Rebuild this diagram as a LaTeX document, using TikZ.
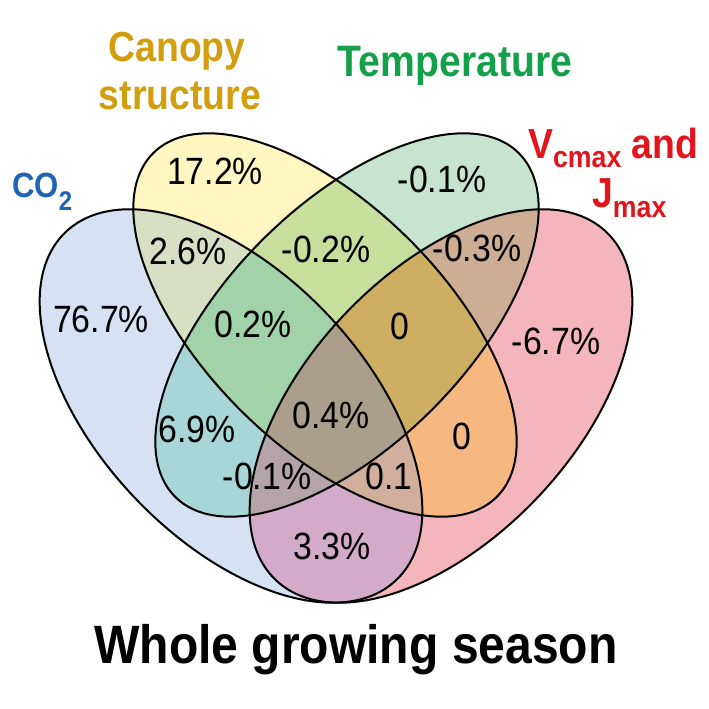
\documentclass[tikz,border=0pt]{standalone}
\usepackage{fontspec}
\setmainfont{Liberation Sans}[FakeStretch=0.89]
\definecolor{cA}{HTML}{D6E2F4}
\definecolor{cB}{HTML}{FFF6C1}
\definecolor{cC}{HTML}{C6E4D0}
\definecolor{cD}{HTML}{F5B5BD}
\definecolor{cAB}{HTML}{D7E0C2}
\definecolor{cAC}{HTML}{A8D6D6}
\definecolor{cAD}{HTML}{D4AAC9}
\definecolor{cBC}{HTML}{C8DE9C}
\definecolor{cBD}{HTML}{F7B780}
\definecolor{cCD}{HTML}{CDAE94}
\definecolor{cABC}{HTML}{A2D2A8}
\definecolor{cABD}{HTML}{D1AF9C}
\definecolor{cACD}{HTML}{B4A4AA}
\definecolor{cBCD}{HTML}{CEAE62}
\definecolor{cABCD}{HTML}{AA9F8B}
\definecolor{tGold}{HTML}{D29E0E}
\definecolor{tGreen}{HTML}{12A04A}
\definecolor{tBlue}{HTML}{1E64B4}
\definecolor{tRed}{HTML}{E2141C}
\newcommand{\ellCO}{(231,303) ellipse [x radius=240, y radius=133, rotate=-46.5]}
\newcommand{\ellCS}{(325,384) ellipse [x radius=243, y radius=120, rotate=-45]}
\newcommand{\ellTE}{(347,384) ellipse [x radius=243, y radius=120, rotate=45]}
\newcommand{\ellVJ}{(441,303) ellipse [x radius=240, y radius=133, rotate=46.5]}
\begin{document}
\begin{tikzpicture}[x=1pt,y=1pt,
  num/.style={anchor=base, inner sep=0pt, font=\fontsize{38}{38}\selectfont},
  lbl/.style={inner sep=0pt, font=\fontsize{42}{42}\selectfont\bfseries},
  outline/.style={draw=black, line width=2pt}]
\useasboundingbox (0,0) rectangle (709,709);
\fill[white] (0,0) rectangle (709,709);
% single sets
\fill[cA] \ellCO;
\fill[cD] \ellVJ;
\fill[cB] \ellCS;
\fill[cC] \ellTE;
% pairs
\begin{scope}\clip \ellCO; \fill[cAB] \ellCS; \end{scope}
\begin{scope}\clip \ellCO; \fill[cAC] \ellTE; \end{scope}
\begin{scope}\clip \ellCO; \fill[cAD] \ellVJ; \end{scope}
\begin{scope}\clip \ellCS; \fill[cBC] \ellTE; \end{scope}
\begin{scope}\clip \ellCS; \fill[cBD] \ellVJ; \end{scope}
\begin{scope}\clip \ellTE; \fill[cCD] \ellVJ; \end{scope}
% triples
\begin{scope}\clip \ellCO; \clip \ellCS; \fill[cABC] \ellTE; \end{scope}
\begin{scope}\clip \ellCO; \clip \ellCS; \fill[cABD] \ellVJ; \end{scope}
\begin{scope}\clip \ellCO; \clip \ellTE; \fill[cACD] \ellVJ; \end{scope}
\begin{scope}\clip \ellCS; \clip \ellTE; \fill[cBCD] \ellVJ; \end{scope}
% all four
\begin{scope}\clip \ellCO; \clip \ellCS; \clip \ellTE; \fill[cABCD] \ellVJ; \end{scope}
% outlines
\path[outline] \ellCO;
\path[outline] \ellVJ;
\path[outline] \ellCS;
\path[outline] \ellTE;
% region values
\node[num] (n1) at (101,376) {76.7\%};
\node[num] (n2) at (215,524) {17.2\%};
\node[num] (n3) at (442,516) {-0.1\%};
\node[num] (n4) at (556,354) {-6.7\%};
\node[num] (n5) at (188,444) {2.6\%};
\node[num] (n6) at (326,446) {-0.2\%};
\node[num] (n7) at (477,447) {-0.3\%};
\node[num] (n8) at (253,371) {0.2\%};
\node[num] (n9) at (400,369) {0};
\node[num] (n10) at (197,266) {6.9\%};
\node[num] (n11) at (331,280) {0.4\%};
\node[num] (n12) at (462,259) {0};
\node[num] (n13) at (267,219) {-0.1\%};
\node[num] (n14) at (389,219) {0.1};
\node[num] (n15) at (332,149) {3.3\%};
% set labels
\node[lbl, anchor=base, text=tGold] (can) at (177,647) {Canopy};
\node[lbl, anchor=base, text=tGold] (str) at (180,599) {structure};
\node[lbl, anchor=base, text=tGreen, font=\fontsize{44}{44}\selectfont\bfseries] (tem) at (455,632) {Temperature};
\node[lbl, anchor=base west, text=tBlue, font=\fontsize{35}{35}\selectfont\bfseries] (co) at (12,511) {CO\raisebox{-13pt}{\fontsize{27}{27}\selectfont 2}};
\node[lbl, anchor=base west, text=tRed] (vc) at (528,550) {V\raisebox{-9pt}{\fontsize{30}{30}\selectfont cmax} and};
\node[lbl, anchor=base west, text=tRed] (jm) at (592,501) {J\raisebox{-10pt}{\fontsize{30}{30}\selectfont max}};
% title
\node[anchor=base, inner sep=0pt, font=\fontsize{54}{54}\selectfont\bfseries] (title) at (356,45) {Whole growing season};
\end{tikzpicture}
\end{document}
